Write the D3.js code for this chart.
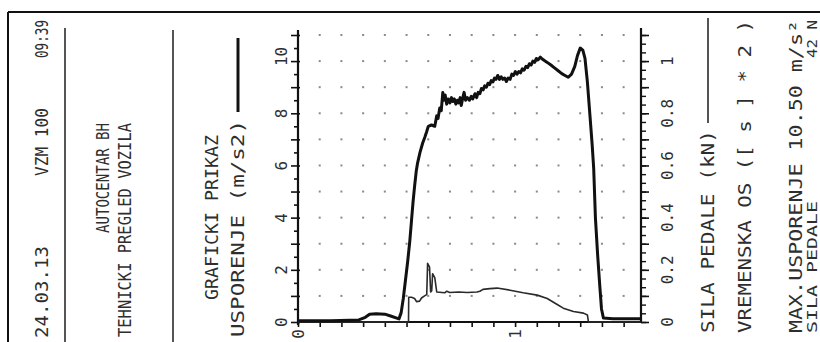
<!DOCTYPE html>
<html>
<head>
<meta charset="utf-8">
<script src="https://cdn.jsdelivr.net/npm/d3@7"></script>
<style>
  html, body { margin: 0; padding: 0; background: #fff; }
  svg { display: block; }
  text { font-family: "DejaVu Sans Mono", "Liberation Mono", monospace; fill: #2e2e2e; }
</style>
</head>
<body>
<svg id="chart" width="820" height="342"></svg>
<script>
// Brake test printout: deceleration (m/s²) and pedal force (kN) against time ([s] * 2)

// time axis, in units of 2 s
const decelTime = [0.000, 0.150, 0.280, 0.310, 0.330, 0.360, 0.400, 0.430, 0.455, 0.465,
  0.475, 0.485, 0.495, 0.505, 0.515, 0.523, 0.530, 0.537, 0.545, 0.551,
  0.562, 0.574, 0.585, 0.593, 0.600, 0.615, 0.630, 0.639, 0.645, 0.653,
  0.660, 0.667, 0.672, 0.678, 0.685, 0.692, 0.700, 0.707, 0.713, 0.720,
  0.727, 0.734, 0.740, 0.747, 0.752, 0.758, 0.765, 0.772, 0.780, 0.790,
  0.798, 0.805, 0.815, 0.823, 0.830, 0.838, 0.845, 0.853, 0.860, 0.868,
  0.875, 0.883, 0.890, 0.898, 0.905, 0.912, 0.920, 0.928, 0.936, 0.944,
  0.952, 0.960, 0.968, 0.977, 0.985, 0.993, 1.001, 1.009, 1.017, 1.025,
  1.033, 1.041, 1.050, 1.058, 1.066, 1.074, 1.082, 1.090, 1.098, 1.106,
  1.116, 1.125, 1.135, 1.148, 1.165, 1.180, 1.200, 1.215, 1.230, 1.245,
  1.260, 1.275, 1.287, 1.300, 1.312, 1.322, 1.333, 1.345, 1.355, 1.362,
  1.370, 1.380, 1.390, 1.398, 1.407, 1.450, 1.579];
// deceleration, m/s²
const decelValue = [0.05, 0.05, 0.08, 0.18, 0.30, 0.32, 0.30, 0.22, 0.15, 0.12,
  0.35, 0.90, 1.6, 2.3, 3.1, 3.9, 4.6, 5.2, 5.8, 6.1,
  6.5, 6.85, 7.1, 7.3, 7.5, 7.55, 7.5, 7.9, 7.8, 8.2,
  8.1, 8.8, 8.5, 8.7, 8.35, 8.55, 8.4, 8.6, 8.45, 8.55,
  8.35, 8.5, 8.4, 8.6, 8.3, 8.55, 8.8, 8.5, 8.6, 8.5,
  8.65, 8.55, 8.75, 8.6, 8.8, 8.75, 8.95, 8.9, 9.05, 9.0,
  9.15, 9.1, 9.25, 9.2, 9.35, 9.3, 9.45, 9.3, 9.4, 9.3,
  9.35, 9.22, 9.35, 9.3, 9.5, 9.45, 9.6, 9.5, 9.6, 9.55,
  9.7, 9.65, 9.8, 9.75, 9.9, 9.85, 10.0, 9.95, 10.1, 10.05,
  10.15, 10.08, 10.02, 9.95, 9.85, 9.75, 9.62, 9.52, 9.45, 9.38,
  9.5, 9.8, 10.2, 10.5, 10.42, 10.1, 9.2, 7.9, 6.8, 5.9,
  4.0, 2.6, 1.4, 0.5, 0.15, 0.12, 0.12];

const pedalTime = [0.000, 0.509, 0.510, 0.523, 0.537, 0.546, 0.560, 0.569, 0.583, 0.593,
  0.597, 0.606, 0.611, 0.616, 0.620, 0.630, 0.639, 0.676, 0.685, 0.699,
  0.740, 0.780, 0.824, 0.838, 0.852, 0.884, 0.917, 0.977, 1.037, 1.102,
  1.148, 1.194, 1.222, 1.269, 1.315, 1.333, 1.338, 1.579];
// pedal force, kN
const pedalValue = [0.0, 0.0, 0.095, 0.095, 0.090, 0.078, 0.080, 0.092, 0.100, 0.105,
  0.225, 0.210, 0.115, 0.120, 0.185, 0.170, 0.115, 0.112, 0.118, 0.113,
  0.115, 0.113, 0.115, 0.118, 0.125, 0.128, 0.130, 0.122, 0.112, 0.103,
  0.090, 0.067, 0.053, 0.040, 0.034, 0.027, 0.0, 0.0];

const decelTickLabels = [0, 2, 4, 6, 8, 10];
const pedalTickLabels = ["0", "0.2", "0.4", "0.6", "0.8", "1"];
const timeTickLabels = [0, 1];

const svg = d3.select("#chart");

// scales: 1 kN on the right axis lines up with 10 m/s² on the left
const x = d3.scaleLinear().domain([0, 1.58]).range([298, 641]);
const yL = d3.scaleLinear().domain([0, 11]).range([322, 35]);
const yR = d3.scaleLinear().domain([0, 1]).range([yL(0), yL(10)]);

// vertical (rotated) text helper; y is where the text starts (bottom end)
function vtext(cx, y, str, opts = {}) {
  const t = svg.append("text")
    .attr("transform", `translate(${cx},${y}) rotate(-90)`)
    .attr("dominant-baseline", "central")
    .attr("text-anchor", opts.anchor || "start")
    .style("font-size", (opts.size || 17) + "px")
    .text(str);
  if (opts.len) t.attr("textLength", opts.len).attr("lengthAdjust", "spacingAndGlyphs");
  return t;
}

// paper frame
svg.append("line").attr("x1", 8).attr("x2", 820).attr("y1", 12).attr("y2", 12)
  .attr("stroke", "#111").attr("stroke-width", 2);
svg.append("line").attr("x1", 8).attr("x2", 8).attr("y1", 12).attr("y2", 342)
  .attr("stroke", "#111").attr("stroke-width", 2);

// header block
vtext(42, 338, "24.03.13", { len: 92 });
vtext(42, 176, "VZM 100", { len: 68 });
vtext(42, 58, "09:39", { len: 38 });
svg.append("line").attr("x1", 65).attr("x2", 65).attr("y1", 28).attr("y2", 342)
  .attr("stroke", "#555").attr("stroke-width", 2);
vtext(103, 233, "AUTOCENTAR BH", { len: 110 });
vtext(125, 337, "TEHNICKI PREGLED VOZILA", { len: 214 });
svg.append("line").attr("x1", 173).attr("x2", 173).attr("y1", 30).attr("y2", 342)
  .attr("stroke", "#555").attr("stroke-width", 2);
vtext(212, 300, "GRAFICKI PRIKAZ", { len: 165 });
vtext(238, 337, "USPORENJE  (m/s2)", { len: 217 });
svg.append("line").attr("x1", 238).attr("x2", 238).attr("y1", 112).attr("y2", 38)
  .attr("stroke", "#111").attr("stroke-width", 3);

// dotted grid
const gridT = d3.range(1, 16).map(i => i / 10);
const gridV = d3.range(1, 12);
svg.append("g").selectAll("rect")
  .data(d3.cross(gridT, gridV))
  .join("rect")
  .attr("x", d => x(d[0]) - 1)
  .attr("y", d => yL(d[1]) - 1)
  .attr("width", 2).attr("height", 2)
  .attr("fill", "#8a8a8a");

// left axis (deceleration)
const gLeft = svg.append("g").attr("transform", `translate(${x(0)},0)`);
gLeft.call(d3.axisLeft(yL).tickValues(d3.range(0.5, 11, 1)).tickSize(4).tickFormat(""));
gLeft.call(g => g.select(".domain").remove());
const gLeftMaj = svg.append("g").attr("transform", `translate(${x(0) + 2},0)`);
gLeftMaj.call(d3.axisLeft(yL).tickValues(d3.range(0, 12, 1)).tickSize(9).tickFormat(""));
gLeftMaj.call(g => g.select(".domain").remove());
svg.selectAll(".tick line").attr("stroke", "#111").attr("stroke-width", 1.6);
svg.append("line").attr("x1", x(0)).attr("x2", x(0)).attr("y1", 30).attr("y2", yL(0) + 3)
  .attr("stroke", "#111").attr("stroke-width", 2.2);
decelTickLabels.forEach(v => vtext(281, yL(v) + 5, String(v), { size: 16 }));

// right axis (pedal force)
const gRight = svg.append("g").attr("transform", `translate(${x(1.58)},0)`);
gRight.call(d3.axisRight(yR).tickValues(d3.range(0, 34).map(i => i / 30)).tickSize(5).tickFormat(""));
gRight.call(g => g.select(".domain").remove());
const gRightMaj = svg.append("g").attr("transform", `translate(${x(1.58)},0)`);
gRightMaj.call(d3.axisRight(yR).tickValues(d3.range(0, 12).map(i => i / 10)).tickSize(8).tickFormat(""));
gRightMaj.call(g => g.select(".domain").remove());
gRight.selectAll(".tick line").attr("stroke", "#111").attr("stroke-width", 1.4);
gRightMaj.selectAll(".tick line").attr("stroke", "#111").attr("stroke-width", 1.6);
svg.append("line").attr("x1", x(1.58)).attr("x2", x(1.58)).attr("y1", 28).attr("y2", yL(0))
  .attr("stroke", "#111").attr("stroke-width", 2.2);
pedalTickLabels.forEach(v => vtext(667, yR(+v), v, { anchor: "middle", size: 16 }));

// time axis
const gBottom = svg.append("g").attr("transform", `translate(0,${yL(0)})`);
gBottom.call(d3.axisBottom(x).tickValues(d3.range(0, 16).map(i => i / 10)).tickSize(5).tickFormat(""));
gBottom.call(g => g.select(".domain").remove());
gBottom.selectAll(".tick line").attr("stroke", "#111").attr("stroke-width", 1.6);
svg.append("line").attr("x1", x(0)).attr("x2", x(1.58)).attr("y1", yL(0)).attr("y2", yL(0))
  .attr("stroke", "#111").attr("stroke-width", 2.2);
timeTickLabels.forEach(v => vtext(x(v), 334, String(v), { anchor: "middle", size: 16 }));

// pedal force curve (thin)
const pedalLine = d3.line()
  .x(i => x(pedalTime[i]))
  .y(i => yR(pedalValue[i]));
svg.append("path")
  .attr("d", pedalLine(d3.range(pedalTime.length)))
  .attr("fill", "none").attr("stroke", "#2a2a2a").attr("stroke-width", 1.6)
  .attr("stroke-linejoin", "round");

// deceleration curve (thick)
const decelLine = d3.line()
  .x(i => x(decelTime[i]))
  .y(i => yL(decelValue[i]));
svg.append("path")
  .attr("d", decelLine(d3.range(decelTime.length)))
  .attr("fill", "none").attr("stroke", "#111").attr("stroke-width", 3)
  .attr("stroke-linejoin", "round");

// legend and summary block on the right
vtext(708, 333, "SILA PEDALE (kN)", { len: 203 });
svg.append("line").attr("x1", 708).attr("x2", 708).attr("y1", 123).attr("y2", 18)
  .attr("stroke", "#2a2a2a").attr("stroke-width", 1.6);
vtext(745, 333, "VREMENSKA OS ([ s ]  *  2 )", { len: 313 });
vtext(796, 333, "MAX.USPORENJE 10.50 m/s\u00b2", { len: 313 });
vtext(812, 333, "SILA PEDALE", { len: 132, size: 14 });
vtext(812, 58, "42 N", { len: 38, size: 14 });
</script>
</body>
</html>
